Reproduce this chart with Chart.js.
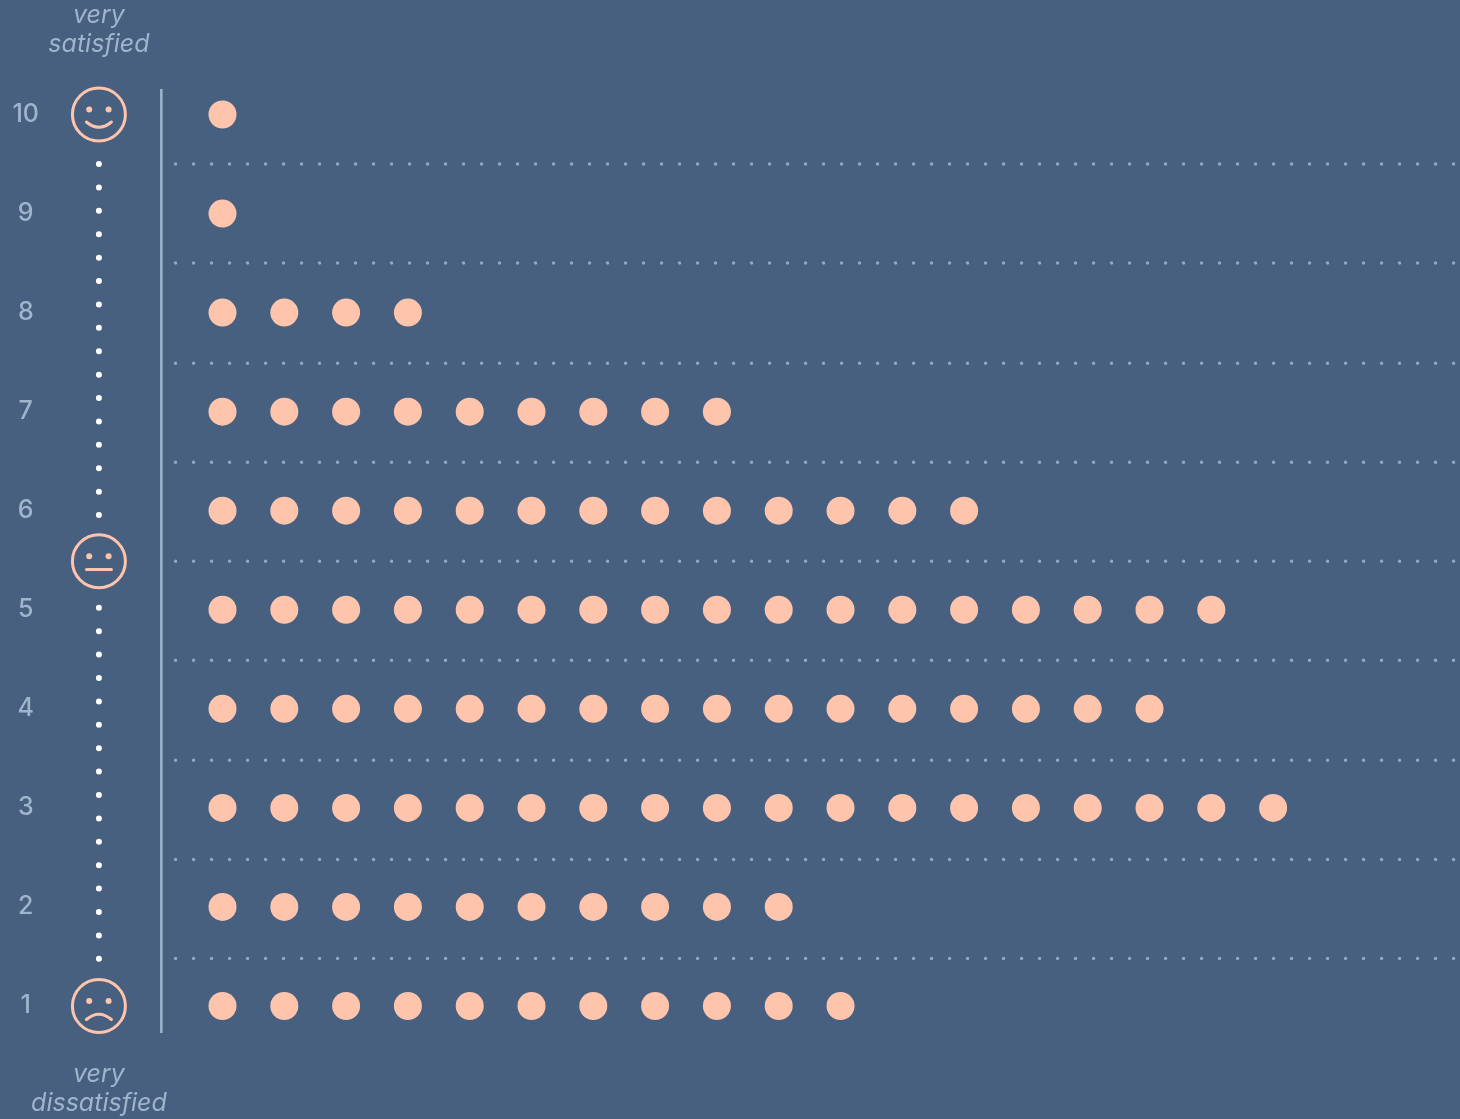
<!DOCTYPE html>
<html>
<head>
<meta charset="utf-8">
<title>Satisfaction ratings</title>
<script src="https://cdn.jsdelivr.net/npm/chart.js@4"></script>
<style>
  html, body { margin: 0; padding: 0; background: #476080; }
  canvas { display: block; }
</style>
</head>
<body>
<canvas id="ratingChart" width="1460" height="1119"></canvas>
<script>
// one dot per respondent, counted off the picture
const ratings = [1, 2, 3, 4, 5, 6, 7, 8, 9, 10];
const counts = [11, 10, 18, 16, 17, 13, 9, 4, 1, 1];
const dividers = [1.48, 2.48, 3.48, 4.49, 5.49, 6.49, 7.49, 8.5, 9.5];
const faceRatings = [10, 5.49, 1];
const faceMouths = [1, 0, -1];
const topCaption = ['very', 'satisfied'];
const bottomCaption = ['very', 'dissatisfied'];

const PEACH = '#ffc4ac';
const LABEL = '#9fb4cd';
const DIVIDER = '#8ea7c3';
const FONT = 'Inter';

const FACE_X = -1;

const dotData = [];
ratings.forEach((r, i) => {
  for (let n = 1; n <= counts[i]; n++) dotData.push({ x: n, y: r });
});

const dividerSets = dividers.map(d => ({
  data: [{ x: 0.24, y: d }, { x: 21.02, y: d }],
  showLine: true,
  pointRadius: 0,
  borderColor: DIVIDER,
  borderWidth: 3.5,
  borderCapStyle: 'round',
  borderDash: [0, 18]
}));

// dotted run between the faces, top half then bottom half
const connector = ends => ({
  data: ends.map(y => ({ x: FACE_X, y })),
  showLine: true,
  pointRadius: 0,
  borderColor: '#ffffff',
  borderWidth: 6,
  borderCapStyle: 'round',
  borderDash: [0, 23.4]
});

const facesPlugin = {
  id: 'faces',
  afterDatasetsDraw(chart) {
    const { ctx, scales } = chart;
    const cx = scales.x.getPixelForValue(FACE_X);
    ctx.save();
    ctx.strokeStyle = PEACH;
    ctx.fillStyle = PEACH;
    ctx.lineWidth = 3;
    ctx.lineCap = 'round';
    faceRatings.forEach((r, i) => {
      const cy = scales.y.getPixelForValue(r);
      ctx.beginPath();
      ctx.arc(cx, cy, 26.5, 0, Math.PI * 2);
      ctx.stroke();
      [-9.7, 9.7].forEach(dx => {
        ctx.beginPath();
        ctx.arc(cx + dx, cy - 5, 3, 0, Math.PI * 2);
        ctx.fill();
      });
      const mood = faceMouths[i];
      const base = mood === 0 ? 8.3 : (mood > 0 ? 7.5 : 13.5);
      ctx.beginPath();
      ctx.moveTo(cx - 12.5, cy + base);
      ctx.quadraticCurveTo(cx, cy + base + mood * 10.5, cx + 12.5, cy + base);
      ctx.stroke();
    });
    ctx.restore();
  }
};

const captionPlugin = {
  id: 'captions',
  afterDraw(chart) {
    const { ctx, scales } = chart;
    const cx = scales.x.getPixelForValue(FACE_X);
    ctx.save();
    ctx.fillStyle = LABEL;
    ctx.font = `italic 25px ${FONT}`;
    ctx.textAlign = 'center';
    ctx.textBaseline = 'middle';
    topCaption.forEach((t, i) => ctx.fillText(t, cx, scales.y.getPixelForValue(10.995 - i * 0.293)));
    bottomCaption.forEach((t, i) => ctx.fillText(t, cx, scales.y.getPixelForValue(0.313 - i * 0.293)));
    ctx.restore();
  }
};

new Chart(document.getElementById('ratingChart'), {
  type: 'scatter',
  data: {
    datasets: [
      {
        data: dotData,
        pointRadius: 14,
        pointBackgroundColor: PEACH,
        pointBorderWidth: 0
      },
      ...dividerSets,
      connector([9.5, 5.95]),
      connector([5.02, 1.47]),
      {
        // vertical rule next to the faces
        data: [{ x: 0.01, y: 10.257 }, { x: 0.01, y: 0.727 }],
        showLine: true,
        pointRadius: 0,
        borderColor: LABEL,
        borderWidth: 2.5
      }
    ]
  },
  options: {
    responsive: false,
    animation: false,
    devicePixelRatio: 1,
    layout: { padding: 0, autoPadding: false },
    plugins: { legend: { display: false }, tooltip: { enabled: false } },
    scales: {
      x: {
        type: 'linear',
        display: false,
        min: -1.759,
        max: 21.024
      },
      y: {
        type: 'linear',
        min: -0.141,
        max: 11.156,
        grid: { display: false, drawTicks: false },
        border: { display: false },
        afterBuildTicks: s => { s.ticks = ratings.map(v => ({ value: v })); },
        afterFit: s => {
          // plot runs edge to edge, so no room kept for half a tick label
          s.width = 52;
          s.paddingTop = 0;
          s.paddingBottom = 0;
        },
        ticks: {
          autoSkip: false,
          color: LABEL,
          padding: 13,
          crossAlign: 'center',
          font: { family: FONT, size: 25, weight: '500' }
        }
      }
    }
  },
  plugins: [facesPlugin, captionPlugin]
});
</script>
</body>
</html>
